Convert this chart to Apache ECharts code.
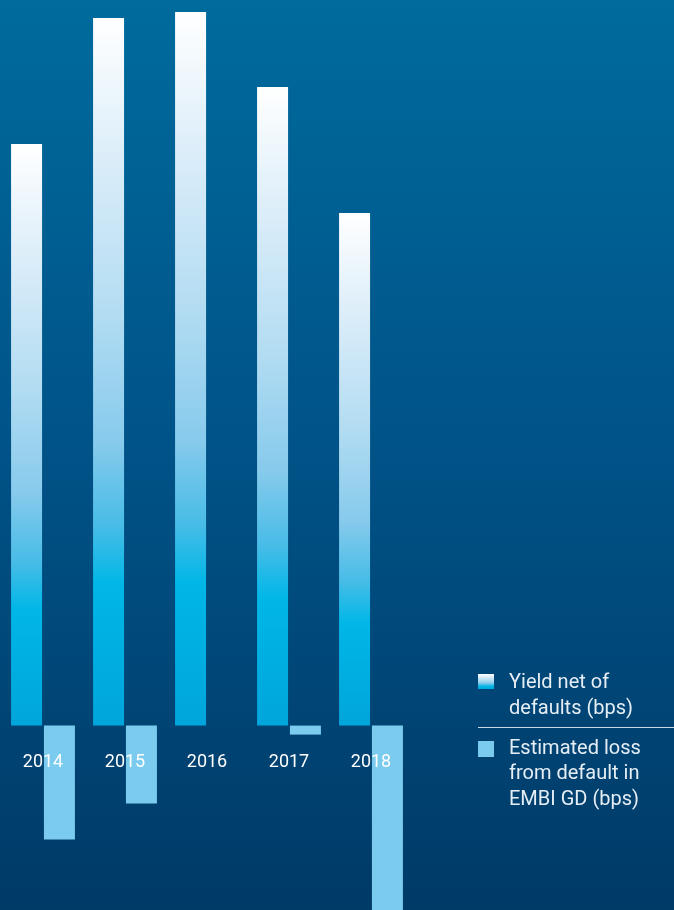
<!DOCTYPE html>
<html>
<head>
<meta charset="utf-8">
<script src="https://cdn.jsdelivr.net/npm/echarts@6/dist/echarts.min.js"></script>
<style>
  html, body { margin: 0; padding: 0; }
  #chart { width: 674px; height: 910px; }
</style>
</head>
<body>
<div id="chart"></div>
<script>
// 年份
const years = ['2014', '2015', '2016', '2017', '2018'];
// 扣除违约后的收益率 (bps)
const yieldNet = [388, 472, 476, 426, 342];
// 违约估计损失 (bps)，负值向下画
const estLoss = [-76, -52, 0, -6, -140];
// 图例文字
const legendNames = ['Yield net of\ndefaults (bps)', 'Estimated loss\nfrom default in\nEMBI GD (bps)'];

const chart = echarts.init(document.getElementById('chart'));

const barGradient = new echarts.graphic.LinearGradient(0, 0, 0, 1, [
  { offset: 0, color: '#ffffff' },
  { offset: 0.2, color: '#dbedf9' },
  { offset: 0.42, color: '#b2dcf2' },
  { offset: 0.6, color: '#87caec' },
  { offset: 0.72, color: '#46bce7' },
  { offset: 0.8, color: '#00b7e7' },
  { offset: 1, color: '#00a5db' }
]);
const lossColor = '#7acbee';
const textFont = 'Roboto, "Liberation Sans", sans-serif';

const option = {
  backgroundColor: new echarts.graphic.LinearGradient(0, 0, 0, 1, [
    { offset: 0, color: '#006b9d' },
    { offset: 0.5, color: '#005287' },
    { offset: 1, color: '#003a67' }
  ]),
  animation: false,
  grid: {
    left: 2, right: 262, top: 0, bottom: 0,
    containLabel: false,
    outerBoundsMode: 'none'
  },
  xAxis: {
    type: 'category',
    data: years,
    z: 10,
    position: 'bottom',
    offset: -184.5,   // 把年份标签移到零线下方
    axisLine: { show: false, onZero: false },
    axisTick: { show: false },
    axisLabel: {
      color: '#ffffff',
      fontSize: 18,
      fontFamily: textFont,
      margin: 28
    },
    splitLine: { show: false }
  },
  yAxis: {
    type: 'value',
    min: -123,
    max: 484,
    show: false,
    splitLine: { show: false }
  },
  series: [
    {
      name: 'Yield net of defaults (bps)',
      type: 'bar',
      data: yieldNet,
      barWidth: 31,
      barGap: '6%',
      itemStyle: { color: barGradient }
    },
    {
      name: 'Estimated loss from default in EMBI GD (bps)',
      type: 'bar',
      data: estLoss,
      barWidth: 31,
      itemStyle: { color: lossColor }
    }
  ],
  graphic: [
    // 图例：图标 + 文字
    {
      type: 'rect',
      left: 478, top: 674,
      shape: { width: 16, height: 15 },
      style: { fill: barGradient }
    },
    {
      type: 'text',
      left: 509, top: 670,
      style: {
        text: legendNames[0],
        fill: '#e6eef5',
        font: '20px ' + textFont,
        lineHeight: 26
      }
    },
    {
      type: 'line',
      shape: { x1: 478, y1: 727.5, x2: 674, y2: 727.5 },
      style: { stroke: '#c9d8e4', lineWidth: 1 }
    },
    {
      type: 'rect',
      left: 478, top: 741,
      shape: { width: 16, height: 16 },
      style: { fill: lossColor }
    },
    {
      type: 'text',
      left: 509, top: 736,
      style: {
        text: legendNames[1],
        fill: '#e6eef5',
        font: '20px ' + textFont,
        lineHeight: 25.5
      }
    }
  ]
};

chart.setOption(option);
</script>
</body>
</html>
